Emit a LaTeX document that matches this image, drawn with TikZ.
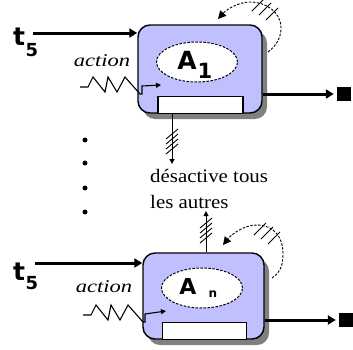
\documentclass[tikz,border=0pt]{standalone}
\usepackage{fontspec}
\setmainfont{Liberation Serif}
\newfontfamily\sansb{DejaVu Sans}
\usetikzlibrary{arrows.meta,shapes.geometric,shadows}
\definecolor{boxblue}{HTML}{C0C0FF}
\definecolor{shadowgray}{HTML}{808080}
\tikzset{
  agentbox/.style={draw=black, line width=1.4pt, fill=boxblue, rounded corners=12pt,
    minimum width=124pt, minimum height=88pt, inner sep=0pt,
    drop shadow={shadow xshift=5pt, shadow yshift=-6pt, fill=shadowgray, opacity=1}},
  agentell/.style={ellipse, draw=black, fill=white, line width=1pt, dash pattern=on 2.5pt off 1.5pt,
    minimum width=81pt, minimum height=40pt, inner sep=0pt},
  innerbox/.style={draw=black, fill=white, line width=1.2pt, minimum width=85pt, minimum height=17pt, inner sep=0pt},
  thickarrow/.style={line width=3pt, -{Triangle[length=8pt,width=9pt]}},
  thinarrow/.style={line width=1pt, -{Triangle[length=5pt,width=5pt]}},
  zigline/.style={line width=1.1pt, -{Triangle[length=5pt,width=5pt]}},
  loopline/.style={line width=0.9pt, dash pattern=on 2.5pt off 1.5pt, -{Triangle[length=8pt,width=8pt]}},
  hatch/.style={line width=0.9pt},
  endsq/.style={fill=black, minimum size=14pt, inner sep=0pt},
  dotnode/.style={circle, fill=black, minimum size=5pt, inner sep=0pt},
  tlabel/.style={font=\sansb\bfseries\fontsize{25}{28}\selectfont, inner sep=0pt},
  tsub/.style={font=\sansb\bfseries\fontsize{18}{20}\selectfont, inner sep=0pt},
  actlabel/.style={font=\itshape\fontsize{18}{20}\selectfont, xscale=1.25, inner sep=0pt},
  desclabel/.style={font=\fontsize{19}{22}\selectfont, xscale=1.1, anchor=base west, inner sep=0pt},
  alabel/.style={font=\sansb\bfseries, inner sep=0pt}
}
\begin{document}
\begin{tikzpicture}[x=1pt,y=-1pt]
\useasboundingbox (0,0) rectangle (353,349);

% ---------- top agent ----------
\node[agentbox] (box1) at (200,69) {};
\node[agentell] (ell1) at (197,62) {};
\node[alabel, font=\sansb\bfseries\fontsize{25}{28}\selectfont] (a1) at (187,60) {A};
\node[alabel, font=\sansb\bfseries\fontsize{21}{24}\selectfont] (a1sub) at (205,71) {1};
\node[innerbox] (in1) at (200.5,104.8) {};
\node[tlabel] (t1) at (19,37) {t};
\node[tsub] (t1s) at (32,50) {5};
\coordinate (t1start) at (33,33);
\draw[thickarrow] (t1start) -- (t1start -| box1.west);
\node[actlabel] (act1) at (102,61) {action};
\coordinate (z1) at (80,87);
\coordinate (z1end) at (161,85);
\draw[zigline] (z1) -- ++(8,0) -- ++(5,-10) -- ++(12,15) -- ++(3,-15) -- ++(9,15) -- ++(8,-15) -- ++(15,17) -- ++(2,0) -- ++(0,-8) -- (z1end);
\node[endsq] (sq1) at (344,94) {};
\draw[thickarrow, shorten >=3pt] (sq1.west -| box1.east) -- (sq1.west);
\coordinate (l1s) at (268,52);
\coordinate (l1r) at (281,28);
\coordinate (l1t) at (250,2);
\coordinate (l1e) at (218,19);
\draw[loopline] (l1s) .. controls (276,46) and (281,38) .. (l1r)
  .. controls (281,12) and (266,2) .. (l1t)
  .. controls (238,2) and (226,10) .. (l1e);
\foreach \c in {(258,5),(265,9),(272,14)}
  \draw[hatch] \c ++(-6,6) -- ++(12,-12);
\coordinate (d1) at (172,164);
\draw[thinarrow] (d1 |- box1.south) -- (d1);
\foreach \yy in {134,139,144,149}
  \draw[hatch] (166,\yy+5) -- (178,\yy-5);

% ---------- dots ----------
\node[dotnode] (dot1) at (85,140) {};
\node[dotnode] (dot2) at (85,163) {};
\node[dotnode] (dot3) at (85,188) {};
\node[dotnode] (dot4) at (85,212) {};

% ---------- text ----------
\node[desclabel] (desc1) at (150,182) {désactive tous};
\node[desclabel] (desc2) at (150,208) {les autres};

% ---------- bottom agent ----------
\begin{scope}[shift={(5,228)}]
\node[agentbox, minimum width=121pt, minimum height=86pt] (box2) at (198.5,68) {};
\node[agentell] (ell2) at (197,60) {};
\node[alabel, font=\sansb\bfseries\fontsize{22}{25}\selectfont] (a2) at (183,58) {A};
\node[alabel, font=\sansb\bfseries\fontsize{12}{15}\selectfont] (a2sub) at (208,66) {n};
\node[innerbox, minimum width=84pt] (in2) at (199.5,102.6) {};
\node[tlabel] (t2) at (14,44) {t};
\node[tsub] (t2s) at (27,55) {5};
\coordinate (t2start) at (30,35);
\draw[thickarrow] (t2start) -- (t2start -| box2.west);
\node[actlabel] (act2) at (99,59) {action};
\coordinate (z2) at (78,87);
\coordinate (z2end) at (161,83);
\draw[zigline] (z2) -- ++(8,0) -- ++(5,-10) -- ++(12,15) -- ++(3,-15) -- ++(9,15) -- ++(8,-15) -- ++(15,17) -- ++(2,0) -- ++(0,-8) -- (z2end);
\node[endsq] (sq2) at (341,92) {};
\draw[thickarrow, shorten >=3pt] (sq2.west -| box2.east) -- (sq2.west);
\coordinate (l2s) at (267,50);
\coordinate (l2r) at (278,26);
\coordinate (l2t) at (252,-3);
\coordinate (l2e) at (218,17);
\draw[loopline] (l2s) .. controls (276,44) and (278,36) .. (l2r)
  .. controls (278,8) and (268,-3) .. (l2t)
  .. controls (238,-3) and (226,7) .. (l2e);
\foreach \c in {(255,1),(262,5),(269,10)}
  \draw[hatch] \c ++(-6,6) -- ++(12,-12);
\coordinate (u2) at (201,-17);
\draw[thinarrow] (u2 |- box2.north) -- (u2);
\foreach \yy in {-5,0,5,10}
  \draw[hatch] (195,\yy+5) -- (207,\yy-5);
\end{scope}
\end{tikzpicture}
\end{document}
